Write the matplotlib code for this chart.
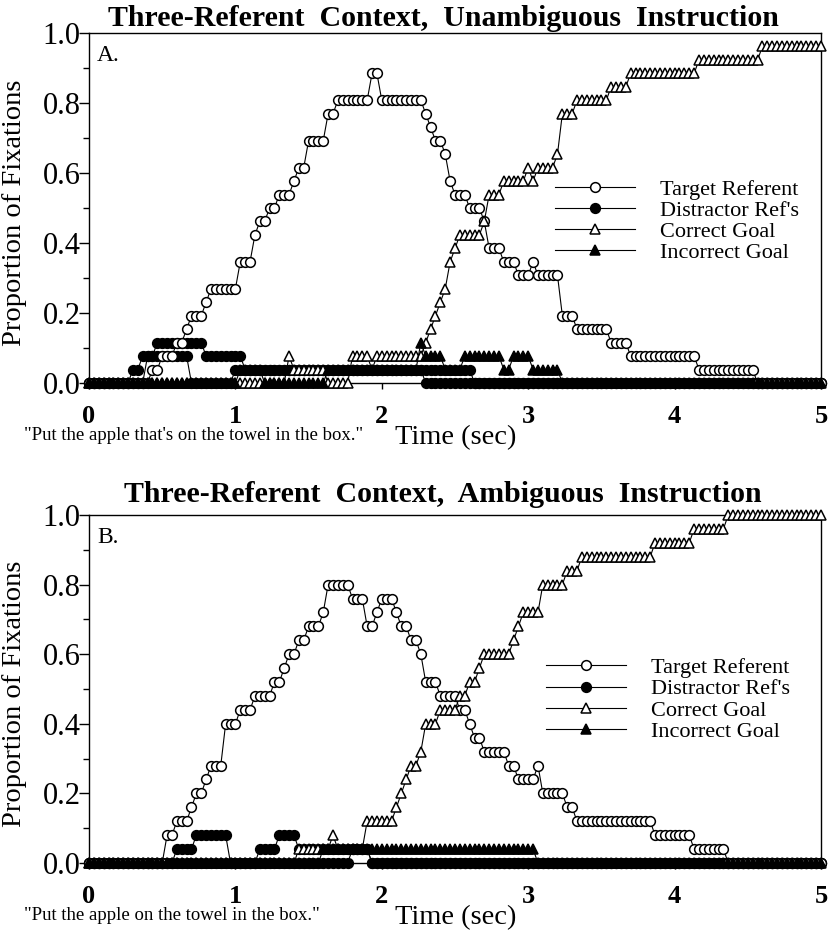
import numpy as np
import matplotlib
matplotlib.use('Agg')
import matplotlib.pyplot as plt
from matplotlib.lines import Line2D

plt.rcParams['font.family'] = ['Liberation Serif', 'DejaVu Serif']

# Tiempo de cada muestra (30 muestras por segundo, de 0 a 5 s)
tiempo = np.arange(151) / 30.0

# Panel A: numero de participantes (de 26) que fijan cada objeto en cada muestra
n_a = 26
target_a = [0, 0, 0, 0, 0, 0, 0, 0, 0, 0,
            0, 0, 0, 1, 1, 2, 2, 2, 3, 3,
            4, 5, 5, 5, 6, 7, 7, 7, 7, 7,
            7, 9, 9, 9, 11, 12, 12, 13, 13, 14,
            14, 14, 15, 16, 16, 18, 18, 18, 18, 20,
            20, 21, 21, 21, 21, 21, 21, 21, 23, 23,
            21, 21, 21, 21, 21, 21, 21, 21, 21, 20,
            19, 18, 18, 17, 15, 14, 14, 14, 13, 13,
            13, 12, 10, 10, 10, 9, 9, 9, 8, 8,
            8, 9, 8, 8, 8, 8, 8, 5, 5, 5,
            4, 4, 4, 4, 4, 4, 4, 3, 3, 3,
            3, 2, 2, 2, 2, 2, 2, 2, 2, 2,
            2, 2, 2, 2, 2, 1, 1, 1, 1, 1,
            1, 1, 1, 1, 1, 1, 1, 0, 0, 0,
            0, 0, 0, 0, 0, 0, 0, 0, 0, 0,
            0]
correct_a = [0, 0, 0, 0, 0, 0, 0, 0, 0, 0,
             0, 0, 0, 0, 0, 0, 0, 0, 0, 0,
             0, 0, 0, 0, 0, 0, 0, 0, 0, 0,
             0, 0, 0, 0, 0, 0, 0, 0, 0, 0,
             0, 2, 1, 1, 1, 1, 1, 1, 1, 0,
             0, 0, 0, 0, 2, 2, 2, 2, 1, 2,
             2, 2, 2, 2, 2, 2, 2, 2, 2, 3,
             4, 5, 6, 7, 9, 10, 11, 11, 11, 11,
             11, 12, 14, 14, 14, 15, 15, 15, 15, 15,
             16, 15, 16, 16, 16, 16, 17, 20, 20, 20,
             21, 21, 21, 21, 21, 21, 21, 22, 22, 22,
             22, 23, 23, 23, 23, 23, 23, 23, 23, 23,
             23, 23, 23, 23, 23, 24, 24, 24, 24, 24,
             24, 24, 24, 24, 24, 24, 24, 24, 25, 25,
             25, 25, 25, 25, 25, 25, 25, 25, 25, 25,
             25]
distractor1_a = [0, 0, 0, 0, 0, 0, 0, 0, 0, 1,
                 1, 2, 2, 2, 3, 3, 3, 3, 3, 3,
                 3, 3, 3, 3, 2, 2, 2, 2, 2, 2,
                 2, 2, 1, 1, 1, 1, 1, 1, 1, 1,
                 1, 1, 1, 1, 1, 1, 1, 1, 1, 1,
                 1, 1, 1, 1, 1, 1, 1, 1, 1, 1,
                 1, 1, 1, 1, 1, 1, 1, 1, 1, 1,
                 1, 1, 1, 1, 1, 1, 1, 1, 1, 0,
                 0, 0, 0, 0, 0, 0, 0, 0, 0, 0,
                 0, 0, 0, 0, 0, 0, 0, 0, 0, 0,
                 0, 0, 0, 0, 0, 0, 0, 0, 0, 0,
                 0, 0, 0, 0, 0, 0, 0, 0, 0, 0,
                 0, 0, 0, 0, 0, 0, 0, 0, 0, 0,
                 0, 0, 0, 0, 0, 0, 0, 0, 0, 0,
                 0, 0, 0, 0, 0, 0, 0, 0, 0, 0,
                 0]
distractor2_a = [0, 0, 0, 0, 0, 0, 0, 0, 0, 0,
                 0, 0, 2, 2, 2, 2, 2, 2, 2, 2,
                 2, 0, 0, 0, 0, 0, 0, 0, 0, 0,
                 1, 1, 1, 1, 1, 1, 1, 1, 1, 1,
                 1, 1, 1, 1, 1, 1, 1, 1, 1, 1,
                 1, 1, 1, 1, 1, 1, 1, 1, 1, 1,
                 1, 1, 1, 1, 1, 1, 1, 1, 1, 0,
                 0, 0, 0, 0, 0, 0, 0, 0, 0, 0,
                 0, 0, 0, 0, 0, 0, 0, 0, 0, 0,
                 0, 0, 0, 0, 0, 0, 0, 0, 0, 0,
                 0, 0, 0, 0, 0, 0, 0, 0, 0, 0,
                 0, 0, 0, 0, 0, 0, 0, 0, 0, 0,
                 0, 0, 0, 0, 0, 0, 0, 0, 0, 0,
                 0, 0, 0, 0, 0, 0, 0, 0, 0, 0,
                 0, 0, 0, 0, 0, 0, 0, 0, 0, 0,
                 0]
incorrect_a = [0, 0, 0, 0, 0, 0, 0, 0, 0, 0,
               0, 0, 0, 0, 0, 0, 0, 0, 0, 0,
               0, 0, 0, 0, 0, 0, 0, 0, 0, 0,
               0, 1, 1, 1, 1, 1, 0, 0, 0, 0,
               0, 0, 0, 0, 0, 0, 0, 0, 0, 1,
               1, 1, 1, 1, 1, 1, 1, 1, 1, 1,
               1, 1, 1, 1, 1, 1, 1, 1, 3, 2,
               2, 2, 2, 1, 1, 1, 1, 2, 2, 2,
               2, 2, 2, 2, 2, 1, 1, 2, 2, 2,
               2, 1, 1, 1, 1, 1, 1, 0, 0, 0,
               0, 0, 0, 0, 0, 0, 0, 0, 0, 0,
               0, 0, 0, 0, 0, 0, 0, 0, 0, 0,
               0, 0, 0, 0, 0, 0, 0, 0, 0, 0,
               0, 0, 0, 0, 0, 0, 0, 0, 0, 0,
               0, 0, 0, 0, 0, 0, 0, 0, 0, 0,
               0]

# Panel B: numero de participantes (de 25)
n_b = 25
target_b = [0, 0, 0, 0, 0, 0, 0, 0, 0, 0,
            0, 0, 0, 0, 0, 0, 2, 2, 3, 3,
            3, 4, 5, 5, 6, 7, 7, 7, 10, 10,
            10, 11, 11, 11, 12, 12, 12, 12, 13, 13,
            14, 15, 15, 16, 16, 17, 17, 17, 18, 20,
            20, 20, 20, 20, 19, 19, 19, 17, 17, 18,
            19, 19, 19, 18, 17, 17, 16, 16, 15, 13,
            13, 13, 12, 12, 12, 12, 11, 11, 10, 9,
            9, 8, 8, 8, 8, 8, 7, 7, 6, 6,
            6, 6, 7, 5, 5, 5, 5, 5, 4, 4,
            3, 3, 3, 3, 3, 3, 3, 3, 3, 3,
            3, 3, 3, 3, 3, 3, 2, 2, 2, 2,
            2, 2, 2, 2, 1, 1, 1, 1, 1, 1,
            1, 0, 0, 0, 0, 0, 0, 0, 0, 0,
            0, 0, 0, 0, 0, 0, 0, 0, 0, 0,
            0]
correct_b = [0, 0, 0, 0, 0, 0, 0, 0, 0, 0,
             0, 0, 0, 0, 0, 0, 0, 0, 0, 0,
             0, 0, 0, 0, 0, 0, 0, 0, 0, 0,
             0, 0, 0, 0, 0, 0, 0, 0, 0, 0,
             0, 0, 0, 1, 1, 1, 1, 1, 1, 1,
             2, 1, 1, 1, 1, 1, 1, 3, 3, 3,
             3, 3, 3, 4, 5, 6, 7, 7, 8, 10,
             10, 10, 11, 11, 11, 11, 12, 12, 13, 13,
             14, 15, 15, 15, 15, 15, 15, 16, 17, 18,
             18, 18, 18, 20, 20, 20, 20, 20, 21, 21,
             21, 22, 22, 22, 22, 22, 22, 22, 22, 22,
             22, 22, 22, 22, 22, 22, 23, 23, 23, 23,
             23, 23, 23, 23, 24, 24, 24, 24, 24, 24,
             24, 25, 25, 25, 25, 25, 25, 25, 25, 25,
             25, 25, 25, 25, 25, 25, 25, 25, 25, 25,
             25]
distractor1_b = [0, 0, 0, 0, 0, 0, 0, 0, 0, 0,
                 0, 0, 0, 0, 0, 0, 0, 0, 1, 1,
                 1, 1, 2, 2, 2, 2, 2, 2, 2, 0,
                 0, 0, 0, 0, 0, 1, 1, 1, 1, 2,
                 2, 2, 2, 1, 1, 1, 1, 1, 1, 1,
                 1, 1, 1, 1, 1, 1, 1, 1, 0, 0,
                 0, 0, 0, 0, 0, 0, 0, 0, 0, 0,
                 0, 0, 0, 0, 0, 0, 0, 0, 0, 0,
                 0, 0, 0, 0, 0, 0, 0, 0, 0, 0,
                 0, 0, 0, 0, 0, 0, 0, 0, 0, 0,
                 0, 0, 0, 0, 0, 0, 0, 0, 0, 0,
                 0, 0, 0, 0, 0, 0, 0, 0, 0, 0,
                 0, 0, 0, 0, 0, 0, 0, 0, 0, 0,
                 0, 0, 0, 0, 0, 0, 0, 0, 0, 0,
                 0, 0, 0, 0, 0, 0, 0, 0, 0, 0,
                 0]
distractor2_b = [0, 0, 0, 0, 0, 0, 0, 0, 0, 0,
                 0, 0, 0, 0, 0, 0, 0, 0, 0, 0,
                 0, 0, 0, 0, 0, 0, 0, 0, 0, 0,
                 0, 0, 0, 0, 0, 0, 0, 0, 0, 0,
                 0, 0, 0, 0, 0, 0, 0, 0, 0, 0,
                 0, 0, 0, 0, 1, 1, 1, 1, 0, 0,
                 0, 0, 0, 0, 0, 0, 0, 0, 0, 0,
                 0, 0, 0, 0, 0, 0, 0, 0, 0, 0,
                 0, 0, 0, 0, 0, 0, 0, 0, 0, 0,
                 0, 0, 0, 0, 0, 0, 0, 0, 0, 0,
                 0, 0, 0, 0, 0, 0, 0, 0, 0, 0,
                 0, 0, 0, 0, 0, 0, 0, 0, 0, 0,
                 0, 0, 0, 0, 0, 0, 0, 0, 0, 0,
                 0, 0, 0, 0, 0, 0, 0, 0, 0, 0,
                 0, 0, 0, 0, 0, 0, 0, 0, 0, 0,
                 0]
incorrect_b = [0, 0, 0, 0, 0, 0, 0, 0, 0, 0,
               0, 0, 0, 0, 0, 0, 0, 0, 0, 0,
               0, 0, 0, 0, 0, 0, 0, 0, 0, 0,
               0, 0, 0, 0, 0, 0, 0, 0, 0, 0,
               0, 0, 0, 0, 0, 0, 0, 0, 1, 1,
               1, 1, 1, 1, 1, 1, 1, 1, 1, 1,
               1, 1, 1, 1, 1, 1, 1, 1, 1, 1,
               1, 1, 1, 1, 1, 1, 1, 1, 1, 1,
               1, 1, 1, 1, 1, 1, 1, 1, 1, 1,
               1, 1, 0, 0, 0, 0, 0, 0, 0, 0,
               0, 0, 0, 0, 0, 0, 0, 0, 0, 0,
               0, 0, 0, 0, 0, 0, 0, 0, 0, 0,
               0, 0, 0, 0, 0, 0, 0, 0, 0, 0,
               0, 0, 0, 0, 0, 0, 0, 0, 0, 0,
               0, 0, 0, 0, 0, 0, 0, 0, 0, 0,
               0]

titulos = ['Three-Referent  Context,  Unambiguous  Instruction',
           'Three-Referent  Context,  Ambiguous  Instruction']
letras = ['A.', 'B.']
frases = ['"Put the apple that\'s on the towel in the box."',
          '"Put the apple on the towel in the box."']
etiquetas = ['Target Referent', "Distractor Ref's", 'Correct Goal', 'Incorrect Goal']


def panel(ax, n, target, correct, dist1, dist2, incorrect, titulo, letra, frase, pad_titulo, leyenda_xy):
    estilo = dict(color='black', lw=0.8, ms=7, mew=1.1, clip_on=False)
    for d in (dist1, dist2):
        ax.plot(tiempo, np.array(d) / n, marker='o', mfc='black', zorder=3, **estilo)
    ax.plot(tiempo, np.array(target) / n, marker='o', mfc='white', zorder=4, **estilo)
    ax.plot(tiempo, np.array(correct) / n, marker='^', mfc='white', zorder=5, **estilo)
    ax.plot(tiempo, np.array(incorrect) / n, marker='^', mfc='black', zorder=6, **estilo)

    ax.set_xlim(0, 5)
    ax.set_ylim(0, 1)
    ax.set_xticks([0, 1, 2, 3, 4, 5])
    ax.set_xticklabels(['0', '1', '2', '3', '4', '5'], fontweight='bold', fontsize=19)
    ax.set_yticks([0, 0.2, 0.4, 0.6, 0.8, 1.0])
    ax.set_yticklabels(['0.0', '0.2', '0.4', '0.6', '0.8', '1.0'], fontsize=22)
    ax.set_yticks(np.arange(0.1, 1.0, 0.2), minor=True)
    ax.tick_params(axis='y', which='major', direction='out', length=7, width=1, pad=-1)
    ax.tick_params(axis='y', which='minor', direction='out', length=4, width=1)
    ax.tick_params(axis='x', direction='out', length=4, width=1, pad=12)
    for s in ax.spines.values():
        s.set_linewidth(1.0)

    ax.set_title(titulo, fontweight='bold', fontsize=21.5, x=0.484, pad=pad_titulo)
    ax.text(0.011, 0.92, letra, transform=ax.transAxes, fontsize=17, va='baseline')
    ax.text(-0.102, 0.486, 'Proportion of Fixations', transform=ax.transAxes,
            rotation=90, ha='center', va='center', fontsize=20.5)
    ax.text(0.501, -0.157, 'Time (sec)', transform=ax.transAxes, ha='center', va='center', fontsize=20.5)
    ax.text(-0.089, -0.15, frase, transform=ax.transAxes, ha='left', va='center', fontsize=13.5)

    manejadores = [
        Line2D([], [], color='black', lw=0.8, marker='o', mfc='white', ms=7, mew=1.1),
        Line2D([], [], color='black', lw=0.8, marker='o', mfc='black', ms=7, mew=1.1),
        Line2D([], [], color='black', lw=0.8, marker='^', mfc='white', ms=7, mew=1.1),
        Line2D([], [], color='black', lw=0.8, marker='^', mfc='black', ms=7, mew=1.1),
    ]
    ax.legend(manejadores, etiquetas, loc='upper left', bbox_to_anchor=leyenda_xy,
              frameon=False, fontsize=16, handlelength=3.6, handletextpad=1.1,
              labelspacing=0.03, borderpad=0, borderaxespad=0, numpoints=1)


fig = plt.figure(figsize=(8.29, 9.35), dpi=100)
ax_a = fig.add_axes([89 / 829, 1 - 383 / 935, 732 / 829, 350 / 935])
ax_b = fig.add_axes([89 / 829, 1 - 863 / 935, 732 / 829, 348 / 935])

panel(ax_a, n_a, target_a, correct_a, distractor1_a, distractor2_a, incorrect_a,
      titulos[0], letras[0], frases[0], 5, (0.637, 0.583))
panel(ax_b, n_b, target_b, correct_b, distractor1_b, distractor2_b, incorrect_b,
      titulos[1], letras[1], frases[1], 9, (0.625, 0.59))

fig.savefig('out.png', dpi=100)
